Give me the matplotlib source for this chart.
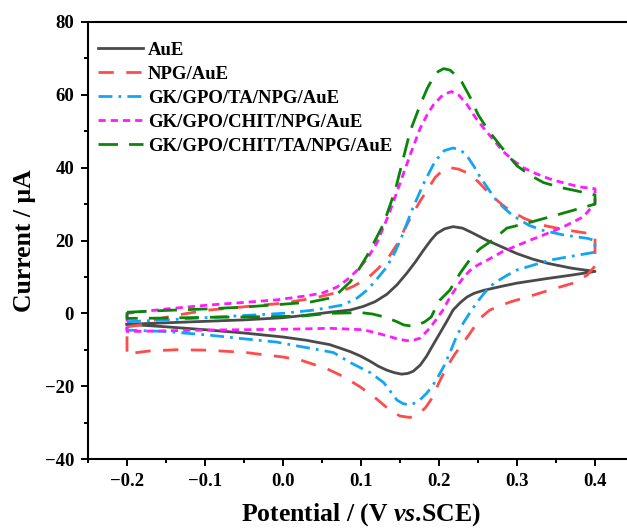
import matplotlib
matplotlib.use("Agg")
import matplotlib.pyplot as plt
from matplotlib.ticker import MultipleLocator

plt.rcParams['font.family'] = ['Liberation Serif', 'DejaVu Serif']
plt.rcParams['font.weight'] = 'bold'
plt.rcParams['mathtext.fontset'] = 'custom'
plt.rcParams['mathtext.rm'] = 'Liberation Serif:bold'
plt.rcParams['mathtext.it'] = 'Liberation Serif:italic:bold'

# ---- data (E in V vs. SCE, I in uA) ----
# each loop: forward scan -0.2 -> 0.4, then reverse scan 0.4 -> -0.2

aue_E = [-0.2, -0.15, -0.1, -0.05, 0.0, 0.03, 0.06, 0.086, 0.103, 0.118, 0.133, 0.146,
         0.159, 0.17, 0.18, 0.19, 0.197, 0.207, 0.218, 0.23, 0.24, 0.261, 0.282, 0.3,
         0.32, 0.34, 0.37, 0.4,
         0.37, 0.34, 0.3, 0.282, 0.257, 0.245, 0.236, 0.227, 0.218, 0.21, 0.201, 0.192,
         0.184, 0.176, 0.167, 0.16, 0.152, 0.143, 0.133, 0.122, 0.112, 0.1, 0.086,
         0.06, 0.03, 0.0, -0.05, -0.1, -0.15, -0.2]
aue_I = [-3.0, -2.6, -2.2, -1.8, -1.2, -0.5, 0.3, 0.9, 1.9, 3.2, 5.2, 7.8,
         11.1, 14.2, 17.3, 20.2, 21.9, 23.2, 23.8, 23.4, 22.4, 20.1, 18.1, 16.4,
         14.9, 13.7, 12.4, 11.5,
         10.5, 9.6, 8.3, 7.5, 6.3, 5.5, 4.5, 2.9, 0.9, -2.2, -5.5, -8.8,
         -11.8, -14.2, -15.9, -16.5, -16.7, -16.3, -15.6, -14.5, -13.2, -11.8, -10.5,
         -8.6, -7.4, -6.5, -5.4, -4.5, -3.7, -3.0]

npg_E = [-0.2, -0.183, -0.16, -0.136, -0.1, -0.05, 0.0, 0.04, 0.073, 0.09, 0.108, 0.122,
         0.137, 0.147, 0.156, 0.166, 0.176, 0.186, 0.195, 0.205, 0.214, 0.225, 0.236,
         0.25, 0.265, 0.28, 0.291, 0.31, 0.333, 0.36, 0.39, 0.4,
         0.4, 0.39, 0.372, 0.342, 0.315, 0.291, 0.265, 0.253, 0.24, 0.231, 0.221, 0.21,
         0.2, 0.192, 0.183, 0.175, 0.163, 0.15, 0.137, 0.12, 0.099, 0.077, 0.056, 0.022,
         0.0, -0.05, -0.1, -0.136, -0.17, -0.196, -0.2, -0.2]
npg_I = [-3.7, -3.2, -1.5, -0.5, 0.8, 1.8, 2.8, 4.2, 5.9, 7.4, 9.6, 12.3,
         15.9, 19.2, 23.2, 27.2, 30.9, 34.2, 37.3, 39.3, 40.0, 39.6, 38.6,
         36.2, 32.8, 30.0, 28.2, 26.0, 24.2, 23.0, 22.0, 21.5,
         13.0, 10.5, 8.3, 6.4, 4.6, 3.1, 0.9, -1.3, -5.4, -8.1, -11.0, -14.7,
         -19.0, -23.0, -25.8, -27.5, -28.6, -28.2, -26.6, -23.5, -20.2, -17.3, -15.2,
         -12.8, -12.0, -10.7, -10.1, -10.0, -10.3, -11.0, -11.5, -3.7]

ta_E = [-0.2, -0.15, -0.1, -0.05, 0.0, 0.04, 0.077, 0.095, 0.108, 0.12, 0.133, 0.144,
        0.154, 0.165, 0.18, 0.195, 0.207, 0.218, 0.228, 0.236, 0.245, 0.253, 0.265,
        0.274, 0.285, 0.295, 0.315, 0.333, 0.36, 0.39, 0.4,
        0.4, 0.36, 0.342, 0.3, 0.287, 0.27, 0.259, 0.249, 0.24, 0.231, 0.222, 0.214,
        0.207, 0.2, 0.192, 0.184, 0.174, 0.163, 0.154, 0.146, 0.129, 0.112, 0.086,
        0.065, 0.051, 0.022, -0.008, -0.05, -0.094, -0.15, -0.2, -0.2]
ta_I = [-2.3, -1.8, -1.2, -0.6, 0.0, 0.9, 2.3, 4.2, 6.4, 9.3, 12.7, 17.0,
        21.9, 28.2, 35.5, 41.8, 44.7, 45.4, 44.8, 43.2, 40.3, 37.3, 33.6,
        30.9, 28.6, 26.8, 24.2, 22.8, 21.5, 20.6, 20.0,
        16.8, 15.3, 14.6, 11.9, 10.4, 8.2, 5.8, 3.1, 0.3, -2.7, -6.6, -10.8,
        -14.2, -17.0, -19.8, -22.0, -24.1, -25.2, -24.8, -23.8, -19.0, -16.3, -13.5,
        -10.8, -10.2, -9.1, -7.9, -7.0, -6.0, -5.0, -4.6, -2.3]

chit_E = [-0.2, -0.15, -0.094, -0.05, -0.008, 0.03, 0.051, 0.069, 0.082, 0.095, 0.108,
          0.12, 0.135, 0.148, 0.163, 0.176, 0.185, 0.193, 0.205, 0.216, 0.226, 0.236,
          0.246, 0.257, 0.27, 0.282, 0.295, 0.308, 0.325, 0.342, 0.36, 0.381, 0.4,
          0.4, 0.385, 0.359, 0.335, 0.317, 0.3, 0.282, 0.261, 0.25, 0.24, 0.231, 0.223,
          0.214, 0.205, 0.196, 0.188, 0.176, 0.167, 0.159, 0.148, 0.137, 0.12, 0.103,
          0.06, 0.022, -0.05, -0.1, -0.15, -0.2, -0.2]
chit_I = [0.0, 1.2, 2.3, 3.0, 3.7, 4.8, 5.6, 7.2, 9.2, 11.8, 15.0,
          19.2, 26.8, 34.5, 43.5, 50.9, 54.6, 57.3, 60.0, 60.9, 59.8, 57.3,
          54.0, 50.9, 47.6, 44.5, 42.0, 40.0, 38.3, 36.9, 35.8, 34.7, 34.2,
          30.2, 26.5, 23.7, 21.6, 20.1, 18.6, 17.0, 14.5, 13.3, 11.8, 9.8, 7.3,
          4.4, 0.9, -1.8, -4.1, -6.8, -7.4, -7.5, -7.1, -6.4, -5.4, -4.5,
          -4.1, -4.3, -4.5, -4.6, -4.8, -5.0, 0.0]

all_E = [-0.2, -0.15, -0.1, -0.051, 0.0, 0.035, 0.065, 0.086, 0.097, 0.108, 0.118, 0.129,
         0.144, 0.163, 0.176, 0.185, 0.192, 0.199, 0.206, 0.214, 0.222, 0.229, 0.24,
         0.25, 0.262, 0.274, 0.287, 0.3, 0.317, 0.334, 0.355, 0.377, 0.4,
         0.4, 0.359, 0.317, 0.287, 0.268, 0.253, 0.244, 0.237, 0.227, 0.214, 0.201,
         0.195, 0.19, 0.182, 0.173, 0.165, 0.155, 0.145, 0.13, 0.115, 0.1, 0.08, 0.06,
         0.022, -0.05, -0.1, -0.15, -0.2, -0.2]
all_I = [0.3, 0.8, 1.2, 1.7, 2.5, 3.1, 4.4, 8.6, 12.0, 15.9, 20.0, 24.6,
         33.9, 50.0, 57.3, 61.8, 64.5, 66.4, 67.2, 66.8, 65.3, 63.6, 59.3,
         54.6, 50.6, 47.3, 43.8, 40.5, 37.9, 35.9, 34.6, 33.6, 32.5,
         30.0, 27.5, 25.0, 23.4, 20.0, 17.8, 16.0, 14.0, 11.0, 6.4, 3.6,
         1.2, -1.0, -2.3, -3.2, -3.5, -3.2, -2.2, -1.0, -0.2, 0.2, 0.1, 0.0,
         -0.8, -1.0, -1.1, -1.3, -1.4, 0.3]

labels = ['AuE', 'NPG/AuE', 'GK/GPO/TA/NPG/AuE', 'GK/GPO/CHIT/NPG/AuE',
          'GK/GPO/CHIT/TA/NPG/AuE']
colors = ['#4a4a4a', '#ff4b4b', '#12a5f4', '#ff1aff', '#0a850a']

fig = plt.figure(figsize=(6.27, 5.30), dpi=100)
ax = fig.add_axes([88 / 627, 71 / 530, 546 / 627, 437 / 530])

lw = 2.0
ax.plot(aue_E, aue_I, color=colors[0], lw=lw, label=labels[0])
ax.plot(npg_E, npg_I, color=colors[1], lw=lw, dashes=(5.5, 4.5), label=labels[1])
ax.plot(ta_E, ta_I, color=colors[2], lw=lw, dashes=(5, 2.2, 1, 2.2), label=labels[2])
ax.plot(chit_E, chit_I, color=colors[3], lw=lw, dashes=(2.6, 1.8), label=labels[3])
ax.plot(all_E, all_I, color=colors[4], lw=lw, dashes=(7, 4), label=labels[4])

ax.set_xlim(-0.25, 0.45)
ax.set_ylim(-40, 80)
ax.xaxis.set_minor_locator(MultipleLocator(0.05))
ax.yaxis.set_major_locator(MultipleLocator(20))
ax.yaxis.set_minor_locator(MultipleLocator(10))
ax.set_xticks([-0.2, -0.1, 0.0, 0.1, 0.2, 0.3, 0.4])
ax.set_xticklabels(['\u22120.2', '\u22120.1', '0.0', '0.1', '0.2', '0.3', '0.4'])

for s in ax.spines.values():
    s.set_linewidth(1.5)
ax.tick_params(which='major', direction='out', length=5, width=1.4,
               labelsize=13.5, pad=5)
ax.tick_params(which='minor', direction='out', length=3, width=1.4)
for t in ax.get_xticklabels() + ax.get_yticklabels():
    t.set_fontweight('bold')

ax.set_xlabel('Potential / (V $\\mathit{vs}$.SCE)', fontsize=18.5,
              fontweight='bold', labelpad=8)
ax.set_ylabel('Current / \u03bcA', fontsize=18.5, fontweight='bold', labelpad=6)

ax.legend(loc='upper left', bbox_to_anchor=(0.018, 0.955), frameon=False,
          borderaxespad=0, borderpad=0, handlelength=2.4, handletextpad=0.27,
          labelspacing=0.37, prop={'size': 13.5, 'weight': 'bold'})

fig.savefig('out.png', dpi=100)
